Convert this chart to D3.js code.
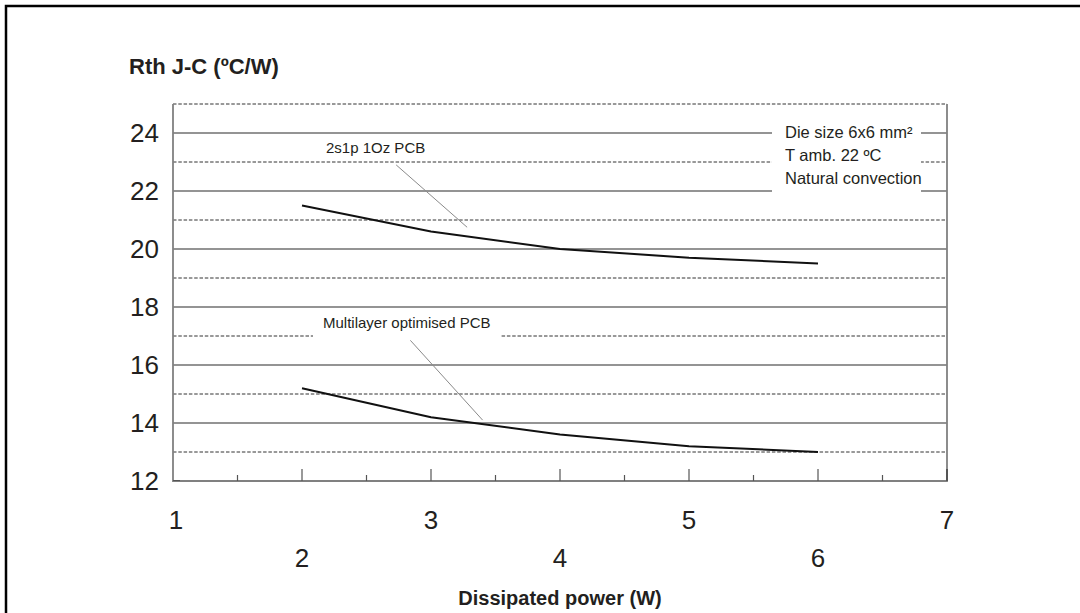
<!DOCTYPE html>
<html>
<head>
<meta charset="utf-8">
<script src="https://cdn.jsdelivr.net/npm/d3@7"></script>
<style>
  html, body { margin: 0; padding: 0; background: #fff; }
  svg { display: block; }
  text { font-family: "Liberation Sans", Arial, Helvetica, sans-serif; fill: #231f20; }
</style>
</head>
<body>
<svg id="chart" width="1080" height="613"></svg>
<script>
// ---- data ----
const powerW = [2, 3, 4, 5, 6];
const rth2s1p = [21.5, 20.6, 20.0, 19.7, 19.5];
const rthMultilayer = [15.2, 14.2, 13.6, 13.2, 13.0];
const yTicksLabeled = [12, 14, 16, 18, 20, 22, 24];
const yGridSolid = [14, 16, 18, 20, 22, 24];
const yGridDashed = [13, 15, 17, 19, 21, 23, 25];
const xTicksOdd = [1, 3, 5, 7];
const xTicksEven = [2, 4, 6];
const xMinorTicks = [1.5, 2.5, 3.5, 4.5, 5.5, 6.5];
const xMajorTicks = [2, 3, 4, 5, 6];
const noteLines = ["Die size 6x6 mm\u00B2", "T amb. 22 \u00BAC", "Natural convection"];

const svg = d3.select("#chart");
const x = d3.scaleLinear().domain([1, 7]).range([173, 947]);
const y = d3.scaleLinear().domain([12, 25]).range([481, 104]);

// outer frame
svg.append("rect").attr("x", 6).attr("y", 6).attr("width", 1200).attr("height", 700)
  .attr("fill", "none").attr("stroke", "#000").attr("stroke-width", 2.5);

// gridlines
svg.append("g").selectAll("line").data(yGridSolid).join("line")
  .attr("x1", x(1)).attr("x2", x(7))
  .attr("y1", d => y(d)).attr("y2", d => y(d))
  .attr("stroke", "#2a2a2a").attr("stroke-width", 1.1);
svg.append("g").selectAll("line").data(yGridDashed).join("line")
  .attr("x1", x(1)).attr("x2", x(7))
  .attr("y1", d => y(d)).attr("y2", d => y(d))
  .attr("stroke", "#333").attr("stroke-width", 1)
  .attr("stroke-dasharray", "3.5,1.8");

// white backgrounds behind annotations
svg.append("rect").attr("x", 772).attr("y", y(24.45)).attr("width", 149).attr("height", y(21.4) - y(24.45)).attr("fill", "#fff");
svg.append("rect").attr("x", 313).attr("y", y(17.6)).attr("width", 188).attr("height", y(16.85) - y(17.6)).attr("fill", "#fff");

// axes frame lines
const axisColor = "#808080";
svg.append("line").attr("x1", x(1)).attr("x2", x(1)).attr("y1", y(25)).attr("y2", y(12) + 1)
  .attr("stroke", axisColor).attr("stroke-width", 1.8);
svg.append("line").attr("x1", x(7)).attr("x2", x(7)).attr("y1", y(25)).attr("y2", y(12) + 1)
  .attr("stroke", axisColor).attr("stroke-width", 1.8);
svg.append("line").attr("x1", x(1)).attr("x2", x(7)).attr("y1", y(12)).attr("y2", y(12))
  .attr("stroke", axisColor).attr("stroke-width", 2);
// short tick at y=12
svg.append("line").attr("x1", x(1)).attr("x2", x(1) + 7).attr("y1", y(12) - 0.5).attr("y2", y(12) - 0.5)
  .attr("stroke", "#555").attr("stroke-width", 1);

// x ticks
svg.append("g").selectAll("line").data(xMajorTicks).join("line")
  .attr("x1", d => x(d)).attr("x2", d => x(d))
  .attr("y1", y(12)).attr("y2", y(12) - 12)
  .attr("stroke", "#555").attr("stroke-width", 1.2);
svg.append("g").selectAll("line").data(xMinorTicks).join("line")
  .attr("x1", d => x(d)).attr("x2", d => x(d))
  .attr("y1", y(12)).attr("y2", y(12) - 6)
  .attr("stroke", "#555").attr("stroke-width", 1.2);
svg.append("line").attr("x1", x(7)).attr("x2", x(7)).attr("y1", y(12)).attr("y2", y(12) - 12)
  .attr("stroke", "#555").attr("stroke-width", 2);

// curves
const line = d3.line().x(d => x(d[0])).y(d => y(d[1])).curve(d3.curveLinear);
svg.append("path").datum(powerW.map((p, i) => [p, rth2s1p[i]]))
  .attr("d", line).attr("fill", "none").attr("stroke", "#111").attr("stroke-width", 2)
  .attr("stroke-linejoin", "round");
svg.append("path").datum(powerW.map((p, i) => [p, rthMultilayer[i]]))
  .attr("d", line).attr("fill", "none").attr("stroke", "#111").attr("stroke-width", 2)
  .attr("stroke-linejoin", "round");

// leader lines
svg.append("line").attr("x1", x(2.73)).attr("y1", y(22.9)).attr("x2", x(3.28)).attr("y2", y(20.75))
  .attr("stroke", "#8a8a8a").attr("stroke-width", 1);
svg.append("line").attr("x1", x(2.84)).attr("y1", y(16.85)).attr("x2", x(3.4)).attr("y2", y(14.1))
  .attr("stroke", "#8a8a8a").attr("stroke-width", 1);

// annotation texts
svg.append("text").attr("x", 326).attr("y", y(23.5)).attr("dy", "0.35em")
  .style("font-size", "15px").text("2s1p 1Oz PCB");
svg.append("text").attr("x", 323).attr("y", y(17.45)).attr("dy", "0.35em")
  .style("font-size", "15px").text("Multilayer optimised PCB");
svg.append("g").selectAll("text").data(noteLines).join("text")
  .attr("x", 785).attr("y", (d, i) => 132 + i * 23).attr("dy", "0.35em")
  .style("font-size", "16.5px").text(d => d);

// y tick labels
svg.append("g").selectAll("text").data(yTicksLabeled).join("text")
  .attr("x", 159).attr("y", d => y(d)).attr("dy", "0.36em")
  .attr("text-anchor", "end").style("font-size", "26px").text(d => d);

// x tick labels
svg.append("g").selectAll("text").data(xTicksOdd).join("text")
  .attr("x", d => x(d) + (d === 1 ? 3 : 0)).attr("y", 529)
  .attr("text-anchor", "middle").style("font-size", "26px").text(d => d);
svg.append("g").selectAll("text").data(xTicksEven).join("text")
  .attr("x", d => x(d)).attr("y", 567)
  .attr("text-anchor", "middle").style("font-size", "26px").text(d => d);

// axis titles
svg.append("text").attr("x", 129).attr("y", 74)
  .style("font-size", "22px").style("font-weight", "bold").text("Rth J-C (\u00BAC/W)");
svg.append("text").attr("x", 560).attr("y", 605)
  .attr("text-anchor", "middle").style("font-size", "20px").style("font-weight", "bold")
  .text("Dissipated power (W)");
</script>
</body>
</html>
